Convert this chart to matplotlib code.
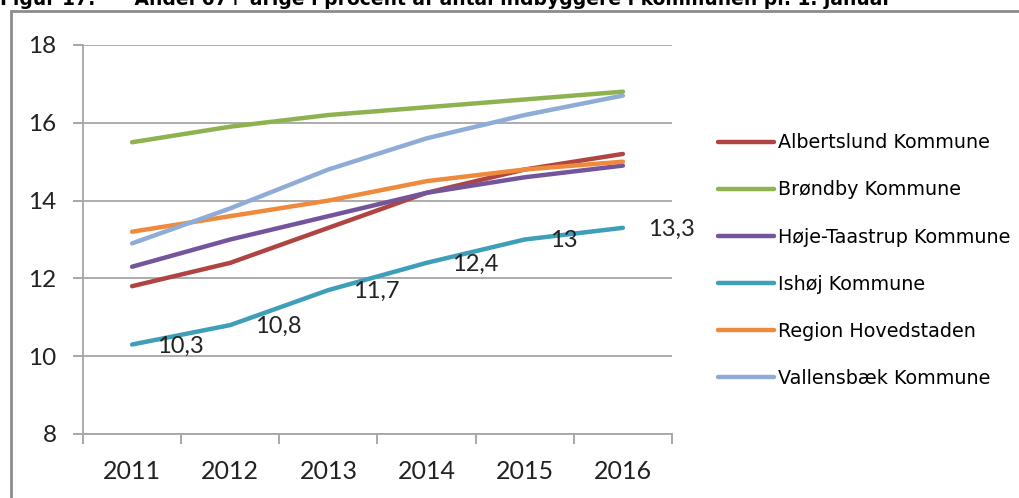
import matplotlib.pyplot as plt
import matplotlib.patches as patches
from matplotlib.ticker import FixedLocator, NullFormatter

# data
years = ["2011", "2012", "2013", "2014", "2015", "2016"]
albertslund = [11.8, 12.4, 13.3, 14.2, 14.8, 15.2]
brondby = [15.5, 15.9, 16.2, 16.4, 16.6, 16.8]
hoje_taastrup = [12.3, 13.0, 13.6, 14.2, 14.6, 14.9]
ishoj = [10.3, 10.8, 11.7, 12.4, 13.0, 13.3]
region = [13.2, 13.6, 14.0, 14.5, 14.8, 15.0]
vallensbaek = [12.9, 13.8, 14.8, 15.6, 16.2, 16.7]

names = ["Albertslund Kommune", "Brøndby Kommune", "Høje-Taastrup Kommune",
         "Ishøj Kommune", "Region Hovedstaden", "Vallensbæk Kommune"]
series = [albertslund, brondby, hoje_taastrup, ishoj, region, vallensbaek]
colors = ["#B04442", "#8DB24F", "#74559B", "#3E9FB9", "#EF8A3C", "#8FACD6"]

fig = plt.figure(figsize=(10.19, 4.98), dpi=100)
ax = fig.add_axes([83 / 1019, 1 - 434 / 498, (672 - 83) / 1019, (434 - 45) / 498])

x = list(range(len(years)))
for vals, name, c in zip(series, names, colors):
    ax.plot(x, vals, color=c, lw=3.2, label=name, solid_capstyle="round",
            solid_joinstyle="round")

# data labels only on Ishøj
for xi, v in zip(x, ishoj):
    txt = f"{v:g}".replace(".", ",")
    ax.annotate(txt, (xi, v), xytext=(18, -1), textcoords="offset points",
                ha="left", va="center", fontsize=17, family="Lato", color="#222222")

ax.set_xlim(-0.5, 5.5)
ax.set_ylim(8, 18)
ax.set_yticks(range(8, 19, 2))

ax.xaxis.set_major_locator(FixedLocator([i - 0.5 for i in range(7)]))
ax.xaxis.set_major_formatter(NullFormatter())
ax.xaxis.set_minor_locator(FixedLocator(x))
ax.set_xticklabels(years, minor=True)
ax.tick_params(axis="x", which="major", length=7, width=1.2, color="#999999", direction="out")
ax.tick_params(axis="x", which="minor", length=0, pad=19, labelsize=18)
ax.tick_params(axis="y", length=7, width=1.2, color="#999999", pad=12, labelsize=17.5)
for lab in ax.get_xticklabels(minor=True) + ax.get_yticklabels():
    lab.set_family("Lato")
    lab.set_color("#222222")

ax.grid(axis="y", color="#A6A6A6", lw=1.3)
ax.set_axisbelow(True)
for s in ["top", "right"]:
    ax.spines[s].set_visible(False)
for s in ["left", "bottom"]:
    ax.spines[s].set_color("#A6A6A6")
    ax.spines[s].set_linewidth(1.3)

leg = fig.legend(loc="upper left", bbox_to_anchor=(701 / 1019, 1 - 116 / 498),
                 frameon=False, handlelength=2.9, handletextpad=0.2,
                 labelspacing=1.47, prop={"family": "DejaVu Sans", "size": 13.8})
for line in leg.get_lines():
    line.set_linewidth(3.2)

# outer frame and cropped title
fig.patches.append(patches.Rectangle((11 / 1019, -0.05), 1.2, 1 - 11 / 498 + 0.05,
                                     transform=fig.transFigure, fill=False,
                                     edgecolor="#8C8C8C", lw=2, zorder=0))
fig.text(0.0, 1 - 5 / 498, "Figur 17:      Andel 67+ årige i procent af antal indbyggere i kommunen pr. 1. januar",
         ha="left", va="baseline", fontsize=13.5, fontweight="bold", family="DejaVu Sans")

fig.savefig("out.png", dpi=100)
